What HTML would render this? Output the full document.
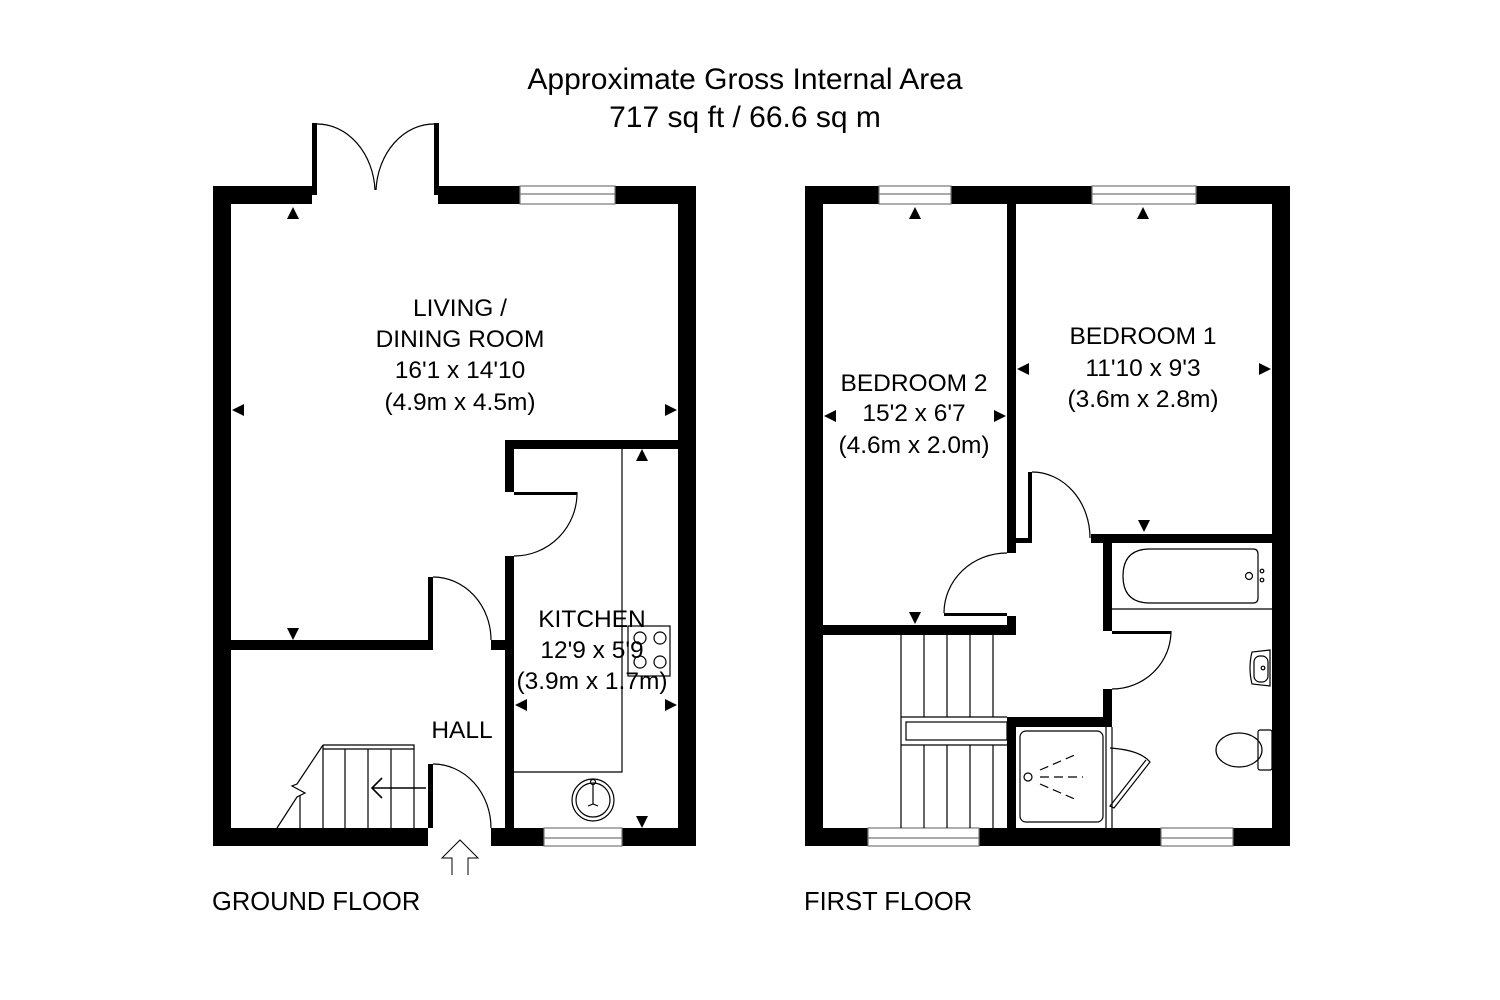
<!DOCTYPE html>
<html><head><meta charset="utf-8"><style>
html,body{margin:0;padding:0;background:#fff;}
svg{display:block;}
text{font-family:"Liberation Sans",Arial,sans-serif;fill:#000;}
</style></head><body>
<svg width="1500" height="1000" viewBox="0 0 1500 1000" xmlns="http://www.w3.org/2000/svg">
<rect width="1500" height="1000" fill="#fff"/>
<text x="745" y="89" font-size="30" text-anchor="middle">Approximate Gross Internal Area</text>
<text x="745" y="127" font-size="30" text-anchor="middle">717 sq ft / 66.6 sq m</text>

<g fill="#000">
<rect x="213" y="186" width="18" height="660"/>
<rect x="678" y="186" width="18" height="660"/>
<rect x="213" y="186" width="99" height="18"/>
<rect x="438" y="186" width="82" height="18"/>
<rect x="615" y="186" width="81" height="18"/>
<rect x="312" y="123" width="5" height="72"/>
<rect x="434" y="123" width="5" height="72"/>
<rect x="213" y="828" width="215" height="18"/>
<rect x="491" y="828" width="53" height="18"/>
<rect x="622" y="828" width="74" height="18"/>
<rect x="231" y="640" width="197" height="10"/>
<rect x="428" y="577" width="5" height="73"/>
<rect x="491" y="640" width="15" height="10"/>
<rect x="505" y="440" width="191" height="9"/>
<rect x="505" y="440" width="9" height="52"/>
<rect x="514" y="492" width="63" height="3"/>
<rect x="505" y="556" width="9" height="272"/>
<rect x="428" y="764" width="5" height="64"/>
</g>
<g fill="none" stroke="#000" stroke-width="1.2">
<rect x="520" y="186" width="95" height="18" stroke="#777"/>
<line x1="520" y1="194" x2="615" y2="194" stroke="#777"/>
<rect x="544" y="828" width="78" height="18" stroke="#777"/>
<line x1="544" y1="838" x2="622" y2="838" stroke="#777"/>
<path d="M317 124 A58 70 0 0 1 375 190"/>
<path d="M434 124 A58 70 0 0 0 376 190"/>
<path d="M577 492 A63 63 0 0 1 514 556"/>
<path d="M433 577 A58 63 0 0 1 491 640"/>
<path d="M433 764 A58 64 0 0 1 491 828"/>
<path d="M622 449 V772 H514"/>
<rect x="628" y="626" width="42" height="50"/>
<circle cx="640" cy="638" r="6"/><circle cx="660" cy="638" r="6"/>
<circle cx="640" cy="662" r="6"/><circle cx="660" cy="662" r="6"/>
<circle cx="593" cy="800" r="21"/><circle cx="593" cy="800" r="17"/>
<circle cx="593" cy="782" r="2.5"/><path d="M593 785 V804 M588 806 L593 804 L598 806"/>
<path d="M323 745 H414 V828 M323 749 H414"/>
<path d="M323 745 V828 M345 749 V828 M368 749 V828 M391 749 V828 M300 795 V828"/>
<path d="M323 745 L297 784 L292 786 L305 793 L297 797 L277 828"/>
<path d="M426 788 H372 M382 778 L372 788 L382 798" stroke-width="1.6"/>
<path d="M452 875 V858 H442 L460 840 L478 858 H468 V875" stroke-width="1"/>
</g>
<g fill="#000">
<path d="M287 219 L293 207 L299 219Z"/>
<path d="M287 628 L293 640 L299 628Z"/>
<path d="M232 410 L244 404 L244 416Z"/>
<path d="M677 410 L665 404 L665 416Z"/>
<path d="M636 461 L642 449 L648 461Z"/>
<path d="M636 816 L642 828 L648 816Z"/>
<path d="M515 705 L527 699 L527 711Z"/>
<path d="M677 705 L665 699 L665 711Z"/>
</g>
<g font-size="24.5" text-anchor="middle">
<text x="460" y="316">LIVING /</text>
<text x="460" y="347">DINING ROOM</text>
<text x="460" y="378">16'1 x 14'10</text>
<text x="460" y="410">(4.9m x 4.5m)</text>
<text x="592" y="627">KITCHEN</text>
<text x="592" y="658">12'9 x 5'9</text>
<text x="592" y="689">(3.9m x 1.7m)</text>
<text x="462" y="738">HALL</text>
<text x="914" y="391">BEDROOM 2</text>
<text x="914" y="421">15'2 x 6'7</text>
<text x="914" y="453">(4.6m x 2.0m)</text>
<text x="1143" y="344">BEDROOM 1</text>
<text x="1143" y="376">11'10 x 9'3</text>
<text x="1143" y="407">(3.6m x 2.8m)</text>
</g>
<text x="212" y="910" font-size="25.5">GROUND FLOOR</text>
<text x="804" y="910" font-size="25.5">FIRST FLOOR</text>

<g fill="#000">
<rect x="805" y="186" width="18" height="660"/>
<rect x="1272" y="186" width="18" height="660"/>
<rect x="805" y="186" width="74" height="18"/>
<rect x="951" y="186" width="141" height="18"/>
<rect x="1196" y="186" width="94" height="18"/>
<rect x="805" y="828" width="63" height="18"/>
<rect x="979" y="828" width="182" height="18"/>
<rect x="1233" y="828" width="57" height="18"/>
<rect x="1007" y="204" width="9" height="339"/>
<rect x="1007" y="538" width="25" height="5"/>
<rect x="1007" y="538" width="9" height="15"/>
<rect x="1028" y="472" width="4" height="71"/>
<rect x="1091" y="534" width="181" height="9"/>
<rect x="1103" y="534" width="9" height="97"/>
<rect x="1112" y="631" width="59" height="3"/>
<rect x="1103" y="689" width="9" height="38"/>
<rect x="823" y="625" width="193" height="10"/>
<rect x="1007" y="616" width="9" height="19"/>
<rect x="944" y="613" width="63" height="3"/>
<rect x="1007" y="717" width="105" height="10"/>
<rect x="1007" y="717" width="9" height="111"/>
</g>
<g fill="none" stroke="#000" stroke-width="1.2">
<rect x="879" y="186" width="72" height="18" stroke="#777"/>
<line x1="879" y1="194" x2="951" y2="194" stroke="#777"/>
<rect x="1092" y="186" width="104" height="18" stroke="#777"/>
<line x1="1092" y1="194" x2="1196" y2="194" stroke="#777"/>
<rect x="868" y="828" width="111" height="18" stroke="#777"/>
<line x1="868" y1="838" x2="979" y2="838" stroke="#777"/>
<rect x="1161" y="828" width="72" height="18" stroke="#777"/>
<line x1="1161" y1="838" x2="1233" y2="838" stroke="#777"/>
<path d="M1032 472 A58 66 0 0 1 1090 538"/>
<path d="M944 613 A63 60 0 0 1 1007 553"/>
<path d="M1171 631 A59 58 0 0 1 1112 689"/>
<path d="M901 635 V828 M924 635 V717 M947 635 V717 M970 635 V717 M993 635 V717 M924 745 V828 M947 745 V828 M970 745 V828 M993 745 V828"/>
<path d="M901 717 H1007 M901 745 H1007"/>
<rect x="906" y="722" width="101" height="18"/>
<rect x="1020" y="731" width="83" height="91" rx="6"/>
<line x1="1106" y1="727" x2="1106" y2="828"/><line x1="1112" y1="727" x2="1112" y2="828"/>
<circle cx="1028" cy="777" r="4"/>
<path d="M1040 770 L1077 754 M1040 777 H1083 M1040 784 L1077 800" stroke-dasharray="9 5"/>
<path d="M1110 748 Q1140 750 1150 762 L1114 808 L1110 806 L1146 760"/>
<line x1="1112" y1="609" x2="1272" y2="609"/>
<path d="M1150 549 H1253 Q1258 549 1258 554 V598 Q1258 603 1253 603 H1150 Q1123 603 1123 576 Q1123 549 1150 549Z"/>
<circle cx="1249" cy="576" r="3.5"/><circle cx="1262" cy="571" r="1.8"/><circle cx="1262" cy="580" r="1.8"/>
<path d="M1270 650 L1252 652 Q1248 668 1252 684 L1270 686Z"/>
<rect x="1254" y="656" width="14" height="26" rx="6"/>
<circle cx="1263" cy="668" r="1.8"/>
<ellipse cx="1239" cy="750" rx="23" ry="17"/>
<rect x="1258" y="730" width="14" height="40" rx="2"/>
</g>
<g fill="#000">
<path d="M909 219 L915 207 L921 219Z"/>
<path d="M1137 219 L1143 207 L1149 219Z"/>
<path d="M909 612 L915 624 L921 612Z"/>
<path d="M1138 520 L1144 532 L1150 520Z"/>
<path d="M824 416 L836 410 L836 422Z"/>
<path d="M1006 416 L994 410 L994 422Z"/>
<path d="M1017 369 L1029 363 L1029 375Z"/>
<path d="M1271 369 L1259 363 L1259 375Z"/>
</g>
</svg>
</body></html>
